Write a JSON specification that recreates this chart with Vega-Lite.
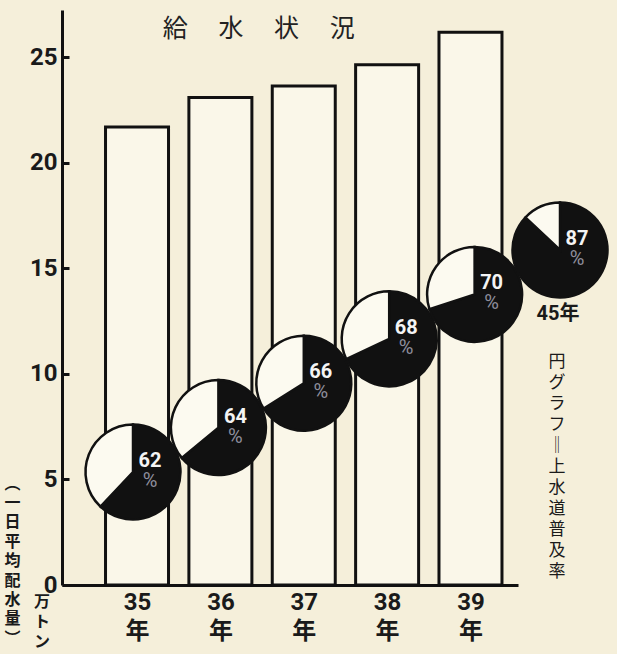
{
  "$schema": "https://vega.github.io/schema/vega-lite/v6.json",
  "autosize": {"type": "none"},
  "padding": {"left": 62, "top": 10, "right": 99, "bottom": 69},
  "width": 456,
  "height": 575,
  "background": "#f5efda",
  "config": {"view": {"stroke": null}, "font": "Noto Sans CJK JP"},
  "datasets": {
    "water": [
      {"year": 35, "volume": 21.7},
      {"year": 36, "volume": 23.1},
      {"year": 37, "volume": 23.65},
      {"year": 38, "volume": 24.65},
      {"year": 39, "volume": 26.2}
    ],
    "rate": [
      {"year": "35", "label": "35年", "part": "普及", "share": 62},
      {"year": "35", "label": "35年", "part": "未普及", "share": 38},
      {"year": "36", "label": "36年", "part": "普及", "share": 64},
      {"year": "36", "label": "36年", "part": "未普及", "share": 36},
      {"year": "37", "label": "37年", "part": "普及", "share": 66},
      {"year": "37", "label": "37年", "part": "未普及", "share": 34},
      {"year": "38", "label": "38年", "part": "普及", "share": 68},
      {"year": "38", "label": "38年", "part": "未普及", "share": 32},
      {"year": "39", "label": "39年", "part": "普及", "share": 70},
      {"year": "39", "label": "39年", "part": "未普及", "share": 30},
      {"year": "45", "label": "45年", "part": "普及", "share": 87},
      {"year": "45", "label": "45年", "part": "未普及", "share": 13}
    ]
  },
  "layer": [
    {
      "layer": [
        {
          "data": {"name": "water"},
          "mark": {"type": "bar", "width": 63, "fill": "#faf7e9", "stroke": "#111111", "strokeWidth": 3},
          "encoding": {
            "x": {
              "field": "year", "type": "quantitative",
              "scale": {"domain": [34.16, 39.51], "nice": false, "zero": false},
              "axis": {
                "values": [35, 36, 37, 38, 39],
                "labelExpr": "[toString(datum.value), '年']",
                "grid": false, "ticks": false,
                "domain": true, "domainColor": "#111111", "domainWidth": 3,
                "labelFont": "Roboto, 'Noto Sans CJK JP', sans-serif",
                "labelFontSize": 24, "labelFontWeight": "bold", "labelColor": "#1a1a1a",
                "labelBaseline": "top", "labelPadding": 5, "labelLineHeight": 29,
                "title": null
              }
            },
            "y": {
              "field": "volume", "type": "quantitative",
              "scale": {"domain": [0, 27.25], "nice": false},
              "axis": {
                "values": [0, 5, 10, 15, 20, 25],
                "grid": false,
                "domain": true, "domainColor": "#111111", "domainWidth": 3,
                "ticks": true, "tickSize": -7, "tickWidth": 3, "tickColor": "#111111",
                "labelFont": "Roboto, sans-serif",
                "labelFontSize": 24, "labelFontWeight": "bold", "labelColor": "#1a1a1a",
                "labelPadding": 12, "labelBaseline": "middle",
                "title": ["︵", "一", "日", "平", "均", "配", "水", "量", "︶"],
                "titleAngle": 0, "titleX": -50, "titleY": 465,
                "titleAlign": "center", "titleBaseline": "top",
                "titleFont": "Noto Sans CJK JP", "titleFontSize": 16, "titleFontWeight": "bold",
                "titleLineHeight": 19.4, "titleColor": "#1a1a1a"
              }
            }
          }
        },
        {
          "data": {"values": [{}]},
          "mark": {"type": "text", "font": "Noto Sans CJK JP", "fontSize": 25, "color": "#222222", "align": "center", "baseline": "middle"},
          "encoding": {
            "x": {"datum": 36.46},
            "y": {"datum": 26.35},
            "text": {"value": "給　 水　 状　 況"}
          }
        },
        {
          "data": {"values": [{}]},
          "mark": {"type": "text", "font": "Noto Sans CJK JP", "fontSize": 16, "fontWeight": "bold", "color": "#1a1a1a", "align": "center", "baseline": "top", "lineHeight": 20},
          "encoding": {
            "x": {"datum": 33.86},
            "y": {"datum": -0.45},
            "text": {"value": ["万", "ト", "ン"]}
          }
        }
      ]
    },
    {
      "data": {"name": "rate"},
      "transform": [
        {"stack": "share", "groupby": ["year"], "sort": [{"field": "part", "order": "ascending"}], "as": ["s0", "s1"]}
      ],
      "encoding": {
        "x": {"field": "year", "type": "ordinal", "scale": {"type": "point", "domain": ["35", "36", "37", "38", "39", "45"], "range": [71, 498], "padding": 0}, "axis": null},
        "y": {"field": "year", "type": "ordinal", "scale": {"type": "point", "domain": ["35", "36", "37", "38", "39", "45"], "range": [462, 240], "padding": 0}, "axis": null}
      },
      "layer": [
        {
          "mark": {"type": "arc", "outerRadius": 47.5, "stroke": "#111111", "strokeWidth": 2.5},
          "encoding": {
            "theta": {"field": "s0", "type": "quantitative", "scale": {"domain": [0, 100], "range": [0, 6.283185307179586]}},
            "theta2": {"field": "s1"},
            "color": {"field": "part", "type": "nominal", "scale": {"domain": ["普及", "未普及"], "range": ["#111111", "#fcfaf0"]}, "legend": null}
          }
        },
        {
          "transform": [{"filter": "datum.part == '普及'"}],
          "mark": {"type": "text", "font": "Roboto, sans-serif", "fontSize": 20, "fontWeight": "bold", "color": "#f4f4f4", "align": "center", "baseline": "middle", "dx": 17, "dy": -11},
          "encoding": {"text": {"field": "share", "type": "quantitative"}}
        },
        {
          "transform": [{"filter": "datum.part == '普及'"}],
          "mark": {"type": "text", "font": "Roboto, sans-serif", "fontSize": 20, "color": "#8e8e9c", "align": "center", "baseline": "middle", "dx": 17, "dy": 9},
          "encoding": {"text": {"value": "%"}}
        },
        {
          "transform": [{"filter": "datum.part == '普及' && datum.year == '45'"}],
          "mark": {"type": "text", "font": "Roboto, 'Noto Sans CJK JP', sans-serif", "fontSize": 20, "fontWeight": "bold", "color": "#1a1a1a", "align": "center", "baseline": "middle", "dx": -2, "dy": 64},
          "encoding": {"text": {"field": "label", "type": "nominal"}}
        },
        {
          "transform": [{"filter": "datum.part == '普及' && datum.year == '45'"}],
          "mark": {"type": "text", "font": "Noto Sans CJK JP", "fontSize": 17, "color": "#1a1a1a", "align": "center", "baseline": "top", "lineHeight": 21, "dx": -3, "dy": 104},
          "encoding": {"text": {"value": ["円", "グ", "ラ", "フ", "‖", "上", "水", "道", "普", "及", "率"]}}
        }
      ]
    }
  ],
  "resolve": {"scale": {"x": "independent", "y": "independent"}}
}
